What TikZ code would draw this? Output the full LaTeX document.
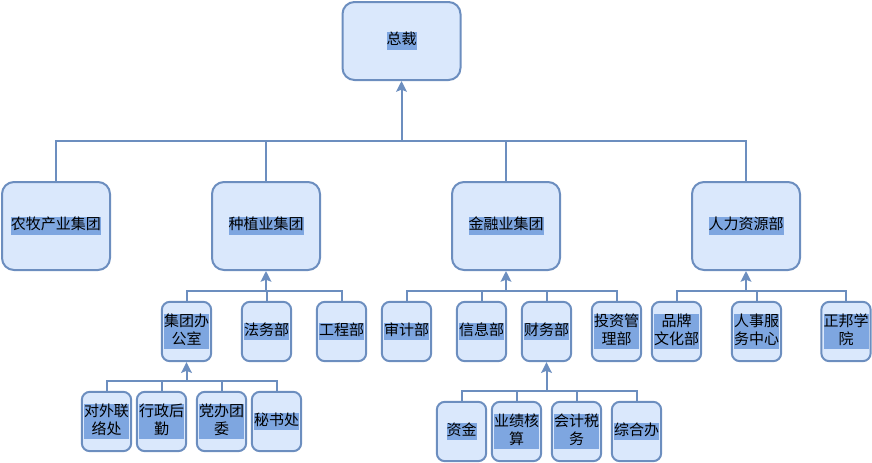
\documentclass[tikz,border=0pt]{standalone}
\usepackage{fontspec}
\usepackage{xcolor}
\usepackage{tikz}
\usetikzlibrary{arrows.meta, positioning, calc}
\newfontfamily\cjk{Noto Sans CJK SC}
\definecolor{boxblue}{HTML}{DAE8FC}
\definecolor{lineblue}{HTML}{6C8EBF}
\definecolor{markblue}{HTML}{7EA6E0}
\setlength{\fboxsep}{0pt}
\newcommand{\hltext}[1]{\colorbox{markblue}{\begin{tabular}{@{}c@{}}#1\end{tabular}}}

\begin{document}
\begin{tikzpicture}[x=0.75pt, y=-0.75pt,
    unitbox/.style={draw=lineblue, fill=boxblue, line width=1.5pt, rounded corners=9pt,
      inner sep=0pt, font=\cjk\fontsize{11.25}{13}\selectfont},
    topbox/.style={unitbox, minimum width=88.5pt, minimum height=58.5pt},
    groupbox/.style={unitbox, minimum width=81pt, minimum height=66pt},
    deptbox/.style={unitbox, rounded corners=6pt, minimum width=37pt, minimum height=44.5pt},
    wire/.style={lineblue, line width=1.5pt},
    uparrow/.style={wire, -{Stealth[inset=1.5pt, length=8pt, width=8pt]}}]
    \useasboundingbox (0,0) rectangle (872,462);
    % Top level
    \node[topbox] (zc) at (401.5,41) {\hltext{总裁}};
    % Groups
    \node[groupbox] (nm) at (56,226) {\hltext{农牧产业集团}};
    \node[groupbox] (zz) at (266,226) {\hltext{种植业集团}};
    \node[groupbox] (jr) at (506,226) {\hltext{金融业集团}};
    \node[groupbox] (rl) at (746,226) {\hltext{人力资源部}};
    % Departments
    \node[deptbox] (ji) at (186.5,331.5) {\hltext{集团办\\公室}};
    \node[deptbox] (fw) at (266.5,331.5) {\hltext{法务部}};
    \node[deptbox] (gc) at (341.5,331.5) {\hltext{工程部}};
    \node[deptbox] (sj) at (406.5,331.5) {\hltext{审计部}};
    \node[deptbox] (xx) at (481.5,331.5) {\hltext{信息部}};
    \node[deptbox] (cw) at (546.5,331.5) {\hltext{财务部}};
    \node[deptbox] (tz) at (616.5,331.5) {\hltext{投资管\\理部}};
    \node[deptbox] (pp) at (676.5,331.5) {\hltext{品牌\\文化部}};
    \node[deptbox] (rs) at (756.5,331.5) {\hltext{人事服\\务中心}};
    \node[deptbox] (zb) at (846,331.5) {\hltext{正邦学\\院}};
    % Offices
    \node[deptbox] (dw) at (106.5,421.5) {\hltext{对外联\\络处}};
    \node[deptbox] (xz) at (161.5,421.5) {\hltext{行政后\\勤}};
    \node[deptbox] (db) at (221.5,421.5) {\hltext{党办团\\委}};
    \node[deptbox] (ms) at (276.5,421.5) {\hltext{秘书处}};
    \node[deptbox] (zj) at (461.5,431.5) {\hltext{资金}};
    \node[deptbox] (yj) at (516.5,431.5) {\hltext{业绩核\\算}};
    \node[deptbox] (kj) at (576.5,431.5) {\hltext{会计税\\务}};
    \node[deptbox] (zh) at (636.5,431.5) {\hltext{综合办}};
    % Bus points
    \coordinate (b0) at ([yshift=-45pt]zc.south);
    \coordinate (b1) at ([yshift=-15pt]zz.south);
    \coordinate (b2) at ([yshift=-15pt]jr.south);
    \coordinate (b3) at ([yshift=-15pt]rl.south);
    \coordinate (b4) at ([yshift=-14.25pt]ji.south);
    \coordinate (b5) at ([yshift=-21.75pt]cw.south);
    % Connectors
    \foreach \n in {nm,zz,jr,rl} \draw[wire] (\n.north) |- (b0);
    \foreach \n in {ji,fw,gc} \draw[wire] (\n.north) |- (b1);
    \foreach \n in {sj,xx,cw,tz} \draw[wire] (\n.north) |- (b2);
    \foreach \n in {pp,rs,zb} \draw[wire] (\n.north) |- (b3);
    \foreach \n in {dw,xz,db,ms} \draw[wire] (\n.north) |- (b4);
    \foreach \n in {zj,yj,kj,zh} \draw[wire] (\n.north) |- (b5);
    \draw[uparrow] (b0) -- (zc.south);
    \draw[uparrow] (b1) -- (zz.south);
    \draw[uparrow] (b2) -- (jr.south);
    \draw[uparrow] (b3) -- (rl.south);
    \draw[uparrow] (b4) -- (ji.south);
    \draw[uparrow] (b5) -- (cw.south);
\end{tikzpicture}
\end{document}
